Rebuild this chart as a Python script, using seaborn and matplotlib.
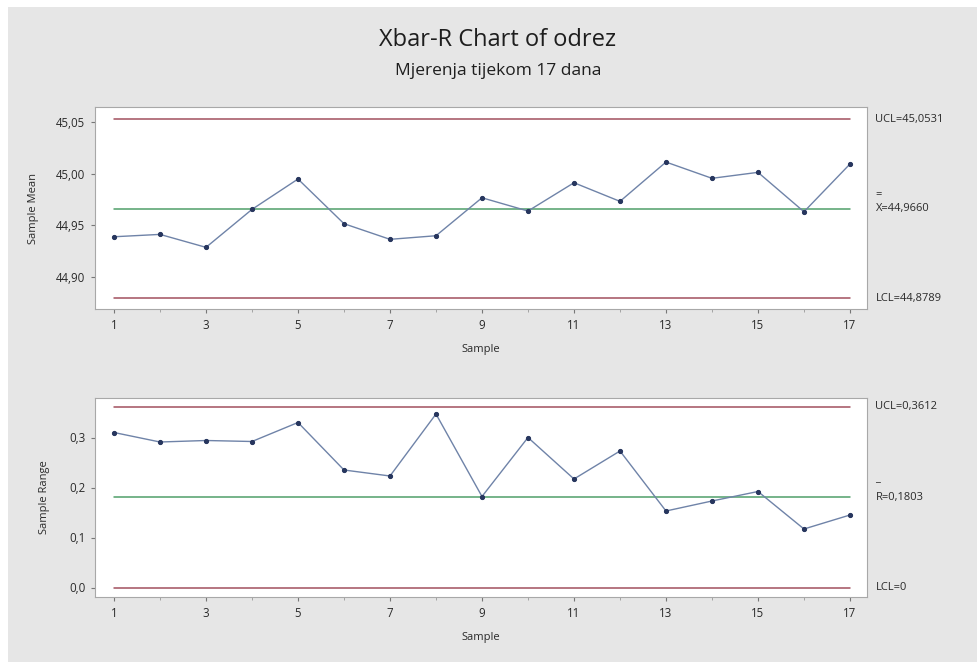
import numpy as np
import pandas as pd
import matplotlib
matplotlib.use("Agg")
import matplotlib.pyplot as plt
import seaborn as sns
from matplotlib.ticker import FixedLocator, FuncFormatter
from matplotlib.patches import Rectangle

samples = list(range(1, 18))
xbar = [44.9388, 44.9411, 44.9285, 44.9654, 44.9949, 44.9515, 44.9363, 44.9398, 44.9767,
        44.9638, 44.9913, 44.9732, 45.0114, 44.9956, 45.0014, 44.9631, 45.0095]
ranges = [0.310, 0.291, 0.294, 0.292, 0.330, 0.235, 0.223, 0.347, 0.182,
          0.300, 0.217, 0.273, 0.153, 0.173, 0.192, 0.117, 0.145]
xbar_ucl, xbar_cl, xbar_lcl = 45.0531, 44.9660, 44.8789
r_ucl, r_cl, r_lcl = 0.3612, 0.1803, 0.0
xbar_ticks = [44.90, 44.95, 45.00, 45.05]
r_ticks = [0.0, 0.1, 0.2, 0.3]
title = "Xbar-R Chart of odrez"
subtitle = "Mjerenja tijekom 17 dana"

sns.set_theme(style="white")
plt.rcParams['font.family'] = ['Open Sans', 'DejaVu Sans']

bg = "#e6e6e6"
line_c = "#6f83a8"
pt_c = "#27365e"
lim_c = "#a2505e"
cl_c = "#4f9f6a"
txt_c = "#2a2a2a"

fig = plt.figure(figsize=(9.78, 6.62), dpi=100, facecolor=bg)
fig.patches.append(Rectangle((0, 1 - 7/662), 1, 7/662, transform=fig.transFigure,
                             facecolor="white", edgecolor="none", zorder=0))
fig.patches.append(Rectangle((0, 0), 8/978, 1, transform=fig.transFigure,
                             facecolor="white", edgecolor="none", zorder=0))

df = pd.DataFrame({"Sample": samples, "Mean": xbar, "Range": ranges})

ax1 = fig.add_axes([95/978, 1 - 309/662, 772/978, 202/662])
ax2 = fig.add_axes([95/978, 1 - 597/662, 772/978, 199/662])

def style(ax, y, ucl, cl, lcl, ylim, yticks, fmt, ylabel, labels, lpad):
    ax.set_facecolor("white")
    for v, c in [(ucl, lim_c), (lcl, lim_c), (cl, cl_c)]:
        ax.plot([1, 17], [v, v], color=c, lw=1.1, zorder=1)
    sns.lineplot(data=df, x="Sample", y=y, ax=ax, color=line_c, lw=1.0,
                 marker="o", markersize=3.0, markerfacecolor=pt_c,
                 markeredgecolor=pt_c, zorder=3)
    ax.set_xlim(0.587, 17.37)
    ax.set_ylim(*ylim)
    ax.xaxis.set_major_locator(FixedLocator(list(range(1, 18, 2))))
    ax.xaxis.set_minor_locator(FixedLocator(samples))
    ax.yaxis.set_major_locator(FixedLocator(yticks))
    ax.yaxis.set_major_formatter(FuncFormatter(lambda v, p: (fmt % v).replace(".", ",")))
    ax.tick_params(axis="both", which="major", length=3, width=0.8, color="#777777",
                   labelsize=8.3, labelcolor=txt_c, pad=4, bottom=True, left=True)
    ax.tick_params(axis="x", which="minor", length=2, width=0.6, color="#999999", bottom=True)
    for s in ax.spines.values():
        s.set_color("#a8a8a8")
        s.set_linewidth(0.8)
    ax.set_xlabel("Sample", fontsize=8, color=txt_c, labelpad=9)
    ax.set_ylabel(ylabel, fontsize=8, color=txt_c, labelpad=lpad)
    ax.grid(False)
    tr = ax.get_yaxis_transform()
    ax.text(1.011, ucl, labels[0], transform=tr, fontsize=8, color=txt_c, va="center", ha="left")
    ax.text(1.011, cl, labels[1], transform=tr, fontsize=8, color=txt_c, va="center", ha="left")
    ax.text(1.011, lcl, labels[2], transform=tr, fontsize=8, color=txt_c, va="center", ha="left")

style(ax1, "Mean", xbar_ucl, xbar_cl, xbar_lcl, (44.8686, 45.0649), xbar_ticks, "%.2f",
      "Sample Mean", ["UCL=45,0531", "X=44,9660", "LCL=44,8789"], 12)
style(ax2, "Range", r_ucl, r_cl, r_lcl, (-0.019, 0.379), r_ticks, "%.1f",
      "Sample Range", ["UCL=0,3612", "R=0,1803", "LCL=0"], 14)

# bars over X and R
ax1.text(1.011, xbar_cl + 0.014, "=", transform=ax1.get_yaxis_transform(), fontsize=8,
         color=txt_c, va="center", ha="left")
ax2.text(1.011, r_cl + 0.027, "_", transform=ax2.get_yaxis_transform(), fontsize=8,
         color=txt_c, va="bottom", ha="left")

fig.text(0.509, 1 - 40/662, title, ha="center", va="center", fontsize=17, color="#1e1e1e")
fig.text(0.509, 1 - 71/662, subtitle, ha="center", va="center", fontsize=12.5, color="#1e1e1e")

fig.savefig("out.png", dpi=100, facecolor=bg)
